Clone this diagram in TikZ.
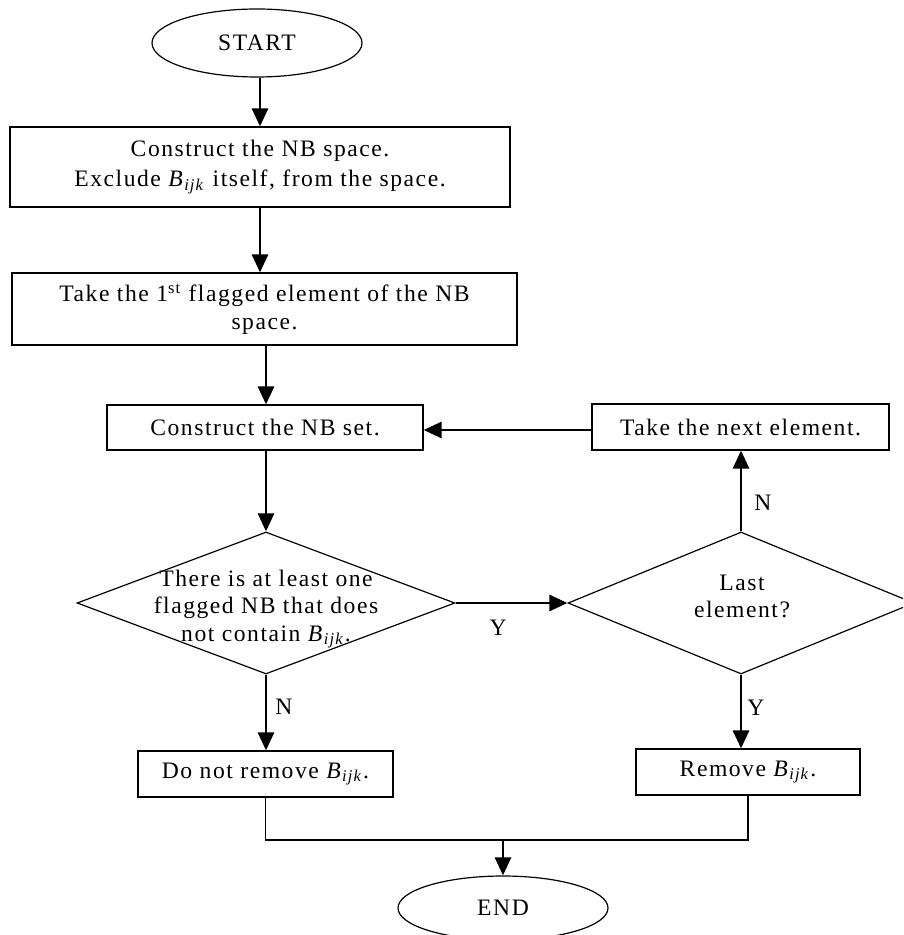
\documentclass[tikz,border=0pt]{standalone}
\usepackage{fontspec}
\setmainfont{Liberation Serif}[LetterSpace=6.5]
\usetikzlibrary{shapes.geometric,arrows.meta}
\newcommand{\Bijk}{\textit{B}\textsubscript{\textit{ijk}}}
\begin{document}
\begin{tikzpicture}[x=0.5pt,y=-0.5pt,
  every node/.style={font=\fontsize{11.8}{13.75}\selectfont},
  stepbox/.style={draw,line width=0.6pt,rectangle,inner sep=0pt,align=center},
  oval/.style={draw,line width=0.6pt,ellipse,inner sep=0pt,minimum width=105pt},
  decision/.style={draw,line width=0.6pt,diamond,inner sep=0pt},
  flow/.style={line width=1.4pt,-{Triangle[length=9pt,width=8pt]}},
  thin line/.style={line width=0.6pt},
  lbl/.style={inner sep=0pt}]
\clip (0,0) rectangle (903,935);
\fill[white] (0,0) rectangle (903,935);

\node[oval,minimum height=34pt] (s) at (257,43) {START};
\node[stepbox,minimum width=250pt,minimum height=40pt,
      font=\fontsize{11.8}{15}\selectfont] (b1) at (260,167)
  {Construct the NB space.\\Exclude \Bijk{} itself, from the space.};
\node[stepbox,minimum width=252.5pt,minimum height=36pt] (b2) at (264.5,309)
  {Take the 1\textsuperscript{st} flagged element of the NB\\space.};
\node[stepbox,minimum width=158pt,minimum height=22.5pt] (b3) at (265,427.5)
  {Construct the NB set.};
\node[stepbox,minimum width=148.5pt,minimum height=23pt] (rb) at (740.5,427)
  {Take the next element.};
\node[decision,minimum width=189pt,minimum height=71pt] (d1) at (266,603) {};
\node[align=center] (d1t) at (266,609)
  {There is at least one\\flagged NB that does\\not contain \Bijk.};
\node[decision,minimum width=173pt,minimum height=71pt] (d2) at (741,603) {};
\node[align=center] (d2t) at (742,596.5) {Last\\element?};
\node[stepbox,minimum width=127.5pt,minimum height=23pt] (dn) at (265.5,774)
  {Do not remove \Bijk.};
\node[stepbox,minimum width=112pt,minimum height=23pt] (rm) at (748,772)
  {Remove \Bijk.};
\node[oval,minimum height=32pt] (e) at (503,908) {END};
\coordinate (m) at (503,840);

\draw[flow] (s.south -| b1.north) -- (b1.north);
\draw[flow] (b1.south) -- (b1.south |- b2.north);
\draw[flow] (b2.south -| d1.north) -- (b3.north -| d1.north);
\draw[flow] (b3.south -| d1.north) -- (d1.north);
\draw[flow] (rb.west |- 0,430) -- (b3.east |- 0,430);
\draw[flow] (d1.east) -- node[lbl,pos=0.38,yshift=-12.5pt]{Y} (d2.west);
\draw[flow] (d2.north) -- node[lbl,pos=0.36,xshift=11pt]{N} (d2.north |- rb.south);
\draw[flow] (d1.south) -- node[lbl,pos=0.43,xshift=9pt]{N} (d1.south |- dn.north);
\draw[flow] (d2.south) -- node[lbl,pos=0.45,xshift=7.5pt]{Y} (d2.south |- rm.north);
\draw[thin line] (dn.south) -- (dn.south |- m) -- (rm.south |- m) -- (rm.south);
\draw[flow] (m) -- (e.north);
\end{tikzpicture}
\end{document}
